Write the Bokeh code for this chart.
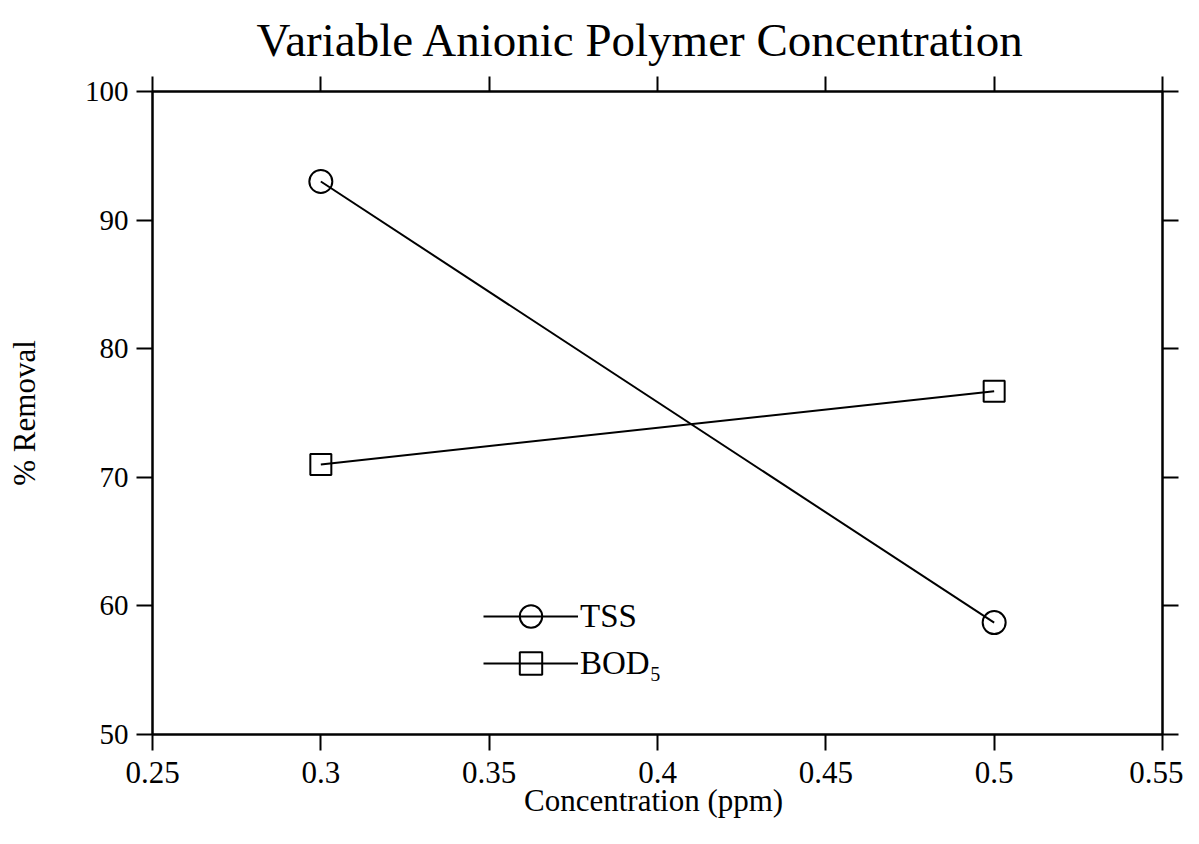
from bokeh.plotting import figure
from bokeh.models import (LinearAxis, FixedTicker, NumeralTickFormatter, Range1d,
                          Legend, LegendItem)
from bokeh.embed import file_html
from bokeh.resources import INLINE

# ---- data ----
conc = [0.3, 0.5]
tss = [93.0, 58.7]
bod5 = [71.0, 76.7]
x_ticks = [0.25, 0.3, 0.35, 0.4, 0.45, 0.5, 0.55]
y_ticks = [50, 60, 70, 80, 90, 100]
title_text = "Variable Anionic Polymer Concentration"
x_label = "Concentration  (ppm)"
y_label = "% Removal"

FONT = "Liberation Serif"

p = figure(output_backend="svg", toolbar_location=None,
           frame_width=1010, frame_height=643,
           min_border_left=152, min_border_top=90, min_border_right=21, min_border_bottom=95,
           x_range=Range1d(0.25, 0.55), y_range=Range1d(50, 100),
           x_axis_location=None, y_axis_location=None)
p.xgrid.visible = False
p.ygrid.visible = False
p.outline_line_color = "black"
p.outline_line_width = 2
p.background_fill_color = "white"
p.border_fill_color = "white"

p.title.text = title_text
p.title.align = "left"
p.title.offset = 104
p.title.text_font = FONT
p.title.text_font_size = "47px"
p.title.text_font_style = "normal"
p.title.text_color = "black"
p.title.standoff = 22


def style_axis(ax, ticks, labels=True, fmt="0.[00]"):
    ax.ticker = FixedTicker(ticks=ticks)
    ax.formatter = NumeralTickFormatter(format=fmt)
    ax.axis_line_color = "black"
    ax.axis_line_width = 2
    ax.major_tick_line_color = "black"
    ax.major_tick_line_width = 2
    ax.major_tick_in = 0
    ax.major_tick_out = 16
    ax.minor_tick_line_color = None
    ax.major_label_text_font = FONT
    ax.major_label_text_font_size = "29px"
    ax.major_label_text_color = "black"
    ax.axis_label_text_font = FONT
    ax.axis_label_text_font_style = "normal"
    ax.axis_label_text_font_size = "31px"
    ax.axis_label_text_color = "black"
    if not labels:
        ax.major_label_text_font_size = "0px"
        ax.major_label_text_color = None


xb = LinearAxis(axis_label=x_label)
style_axis(xb, x_ticks)
xb.major_label_text_font_size = "31px"
xb.major_label_standoff = 11
xb.axis_label_standoff = -3
p.add_layout(xb, "below")

xt = LinearAxis()
style_axis(xt, x_ticks, labels=False)
xt.major_tick_out = 15
xt.major_label_standoff = 0
p.add_layout(xt, "above")

yl = LinearAxis(axis_label=y_label)
style_axis(yl, y_ticks, fmt="0")
yl.major_label_standoff = 8
yl.axis_label_standoff = 40
p.add_layout(yl, "left")

yr = LinearAxis()
style_axis(yr, y_ticks, labels=False, fmt="0")
p.add_layout(yr, "right")

# ---- series ----
l1 = p.line(conc, tss, line_color="black", line_width=2)
m1 = p.scatter(conc, tss, marker="circle", size=23, line_color="black",
               line_width=2, fill_color=None)
l2 = p.line(conc, bod5, line_color="black", line_width=2)
m2 = p.scatter(conc, bod5, marker="square", size=21, line_color="black",
               line_width=2, fill_color=None)


def make_legend(label, rends, loc):
    lg = Legend(items=[LegendItem(label=label, renderers=rends)],
                location=loc, glyph_width=95, glyph_height=56,
                label_height=56, spacing=0, padding=0, margin=0,
                label_standoff=2, border_line_color=None,
                background_fill_alpha=0)
    lg.label_text_font = FONT
    lg.label_text_font_size = "33px"
    lg.label_text_color = "black"
    return lg


p.add_layout(make_legend("TSS", [l1, m1], (331, 90)), "center")
p.add_layout(make_legend("BOD₅", [l2, m2], (331, 43)), "center")

open("out.html", "w").write(file_html(p, INLINE))
